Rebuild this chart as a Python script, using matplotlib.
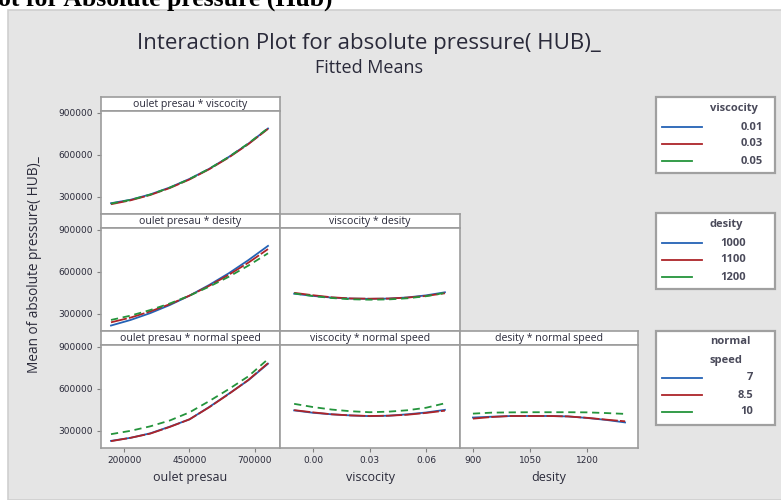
import matplotlib
matplotlib.use("Agg")
import matplotlib.pyplot as plt
from matplotlib.patches import Rectangle
from matplotlib.lines import Line2D

W, H = 781, 500

# factor levels on the x axes
oulet = [150000, 225000, 300000, 375000, 450000, 525000, 600000, 675000, 750000]
visc = [-0.01, 0.0, 0.01, 0.02, 0.03, 0.04, 0.05, 0.06, 0.07]
dens = [900, 950, 1000, 1050, 1100, 1150, 1200, 1250, 1300]

# oulet presau * viscocity  (0.01, 0.03, 0.05)
ov_a = [254000, 279000, 317000, 367000, 428000, 500000, 585000, 680000, 789000]
ov_b = [247000, 275000, 313000, 363000, 424000, 497000, 581000, 677000, 786000]
ov_c = [252000, 278000, 316000, 366000, 427000, 500000, 585000, 682000, 791000]

# oulet presau * desity  (1000, 1100, 1200)
od_a = [216000, 256000, 305000, 363000, 430000, 506000, 590000, 684000, 786000]
od_b = [239000, 273000, 317000, 369000, 430000, 500000, 579000, 666000, 763000]
od_c = [256000, 287000, 327000, 374000, 430000, 494000, 565000, 645000, 733000]

# viscocity * desity
vd_a = [444000, 428000, 416000, 409000, 407000, 409000, 417000, 432000, 454000]
vd_b = [450000, 433000, 418000, 410000, 408000, 409000, 416000, 428000, 447000]
vd_c = [446000, 427000, 413000, 404000, 401000, 403000, 411000, 426000, 450000]

# oulet presau * normal speed  (7, 8.5, 10)
os_a = [228000, 250000, 282000, 330000, 382000, 470000, 565000, 662000, 780000]
os_b = [226000, 250000, 280000, 328000, 382000, 468000, 563000, 664000, 784000]
os_c = [276000, 300000, 332000, 374000, 432000, 512000, 598000, 690000, 813000]

# viscocity * normal speed
vs_a = [446000, 429000, 418000, 410000, 405000, 408000, 418000, 431000, 450000]
vs_b = [448000, 432000, 418000, 410000, 406000, 408000, 415000, 428000, 444000]
vs_c = [493000, 470000, 452000, 440000, 433000, 437000, 447000, 465000, 497000]

# desity * normal speed
ds_a = [395000, 401000, 406000, 406000, 406000, 403000, 392000, 378000, 360000]
ds_b = [387000, 399000, 406000, 406000, 406000, 403000, 393000, 380000, 368000]
ds_c = [423000, 430000, 432000, 433000, 433000, 433000, 432000, 427000, 421000]

leg_titles = [["viscocity"], ["desity"], ["normal", "speed"]]
leg_labels = [["0.01", "0.03", "0.05"], ["1000", "1100", "1200"], ["7", "8.5", "10"]]

colors = ["#2462b5", "#ad2429", "#24943c"]
styles = [dict(ls="-"), dict(ls=(0, (9, 1.2))), dict(ls=(0, (4, 2.6)))]

xdata = [oulet, visc, dens]
xlims = [(111800, 795900), (-0.0175, 0.078), (866, 1334)]
xticks = [[200000, 450000, 700000], [0.0, 0.03, 0.06], [900, 1050, 1200]]
xticklabels = [["200000", "450000", "700000"], ["0.00", "0.03", "0.06"], ["900", "1050", "1200"]]
xnames = ["oulet presau", "viscocity", "desity"]

panels = {
    (0, 0): ("oulet presau * viscocity", [ov_a, ov_b, ov_c]),
    (1, 0): ("oulet presau * desity", [od_a, od_b, od_c]),
    (1, 1): ("viscocity * desity", [vd_a, vd_b, vd_c]),
    (2, 0): ("oulet presau * normal speed", [os_a, os_b, os_c]),
    (2, 1): ("viscocity * normal speed", [vs_a, vs_b, vs_c]),
    (2, 2): ("desity * normal speed", [ds_a, ds_b, ds_c]),
}

col_x = [101, 280, 460, 638]
row_top = [97, 214, 331]
strip_h, plot_h = 14, 103
edge = "#9c9c9c"
txt = "#2a2a3a"


def box(x0, y0, x1, y1):
    return [x0 / W, 1 - y1 / H, (x1 - x0) / W, (y1 - y0) / H]


def fx(x):
    return x / W


def fy(y):
    return 1 - y / H


fig = plt.figure(figsize=(W / 100, H / 100), dpi=100)
fig.patch.set_facecolor("white")
fig.patches.append(Rectangle((fx(8), 0), 1, fy(10), transform=fig.transFigure,
                             facecolor="#e5e5e5", edgecolor="#cfcfcf", lw=1.2, zorder=-5))
fig.text(-0.003, fy(6), "ot for Absolute pressure (Hub)", family="Liberation Serif",
         weight="bold", fontsize=18.5, va="baseline", ha="left", color="black")

fig.text(fx(369), fy(44), "Interaction Plot for absolute pressure( HUB)_", family="Open Sans",
         fontsize=16, ha="center", va="center", color=txt)
fig.text(fx(369), fy(68), "Fitted Means", family="Open Sans", fontsize=13,
         ha="center", va="center", color=txt)
fig.text(fx(35), fy(265), "Mean of absolute pressure( HUB)_", family="Open Sans", fontsize=9.8,
         rotation=90, ha="center", va="center", color=txt)

for (r, c), (title, series) in panels.items():
    x0, x1 = col_x[c], col_x[c + 1]
    top = row_top[r]
    st = fig.add_axes(box(x0, top, x1, top + strip_h))
    st.set_facecolor("white")
    st.set_xticks([])
    st.set_yticks([])
    for s in st.spines.values():
        s.set_color(edge)
        s.set_linewidth(1.2)
    st.text(0.5, 0.45, title, transform=st.transAxes, ha="center", va="center",
            fontsize=7.6, family="Open Sans", color=txt)

    ax = fig.add_axes(box(x0, top + strip_h, x1, top + strip_h + plot_h))
    ax.set_facecolor("white")
    for k, ys in enumerate(series):
        ax.plot(xdata[c], ys, color=colors[k], lw=1.3, **styles[k])
    ax.set_xlim(*xlims[c])
    ax.set_ylim(177000, 914000)
    for s in ax.spines.values():
        s.set_color(edge)
        s.set_linewidth(1.2)
    ax.tick_params(length=3, width=0.8, color="#808080", labelsize=6.5, labelcolor=txt, pad=3)
    if c == 0:
        ax.set_yticks([300000, 600000, 900000])
        ax.set_yticklabels(["300000", "600000", "900000"])
    else:
        ax.set_yticks([])
    if r == 2:
        ax.set_xticks(xticks[c])
        ax.set_xticklabels(xticklabels[c])
        fig.text(fx((x0 + x1) / 2), fy(477), xnames[c], family="Open Sans", fontsize=9,
                 ha="center", va="center", color=txt)
    else:
        ax.set_xticks([])

# legend boxes
leg_boxes = [(97, 173), (213, 289), (331, 425)]
label_right = [763, 746, 753]
for i, (t0, t1) in enumerate(leg_boxes):
    fig.patches.append(Rectangle((fx(656), fy(t1)), fx(775) - fx(656), fy(t0) - fy(t1),
                                 transform=fig.transFigure, facecolor="white",
                                 edgecolor="#a0a0a0", lw=1.6, zorder=1))
    yy = t0 + 11
    for line in leg_titles[i]:
        fig.text(fx(710), fy(yy), line, family="Open Sans", fontsize=8, weight="bold",
                 ha="left", va="center", color="#4a4a5a", zorder=2)
        yy += 18
    yy = t0 + (30 if len(leg_titles[i]) == 1 else 47)
    for k, lab in enumerate(leg_labels[i]):
        xe = 702 if k < 2 else 692
        fig.add_artist(Line2D([fx(662), fx(xe)], [fy(yy), fy(yy)], transform=fig.transFigure,
                              color=colors[k], lw=1.3, zorder=2))
        fig.text(fx(label_right[i]), fy(yy), lab, family="Open Sans", fontsize=8, weight="bold",
                 ha="right", va="center", color="#4a4a5a", zorder=2)
        yy += 17

fig.savefig("out.png", dpi=100)
